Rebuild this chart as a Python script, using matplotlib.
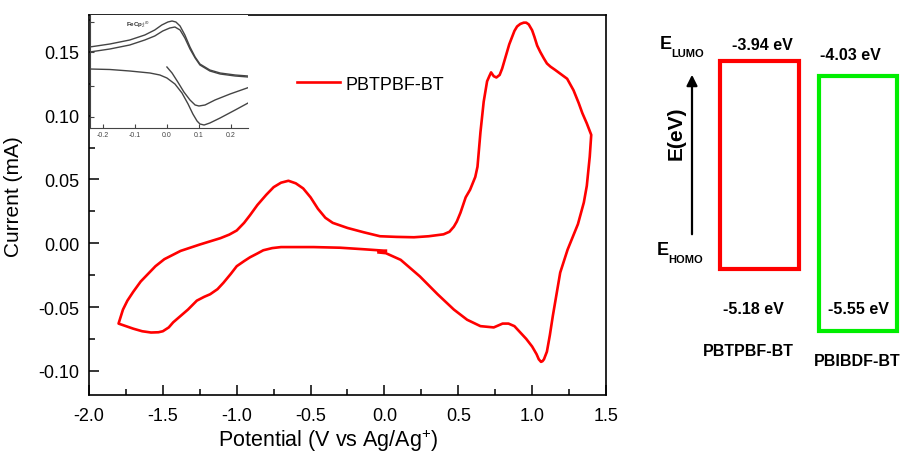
import matplotlib
matplotlib.use("Agg")
import matplotlib.pyplot as plt
from matplotlib.ticker import MultipleLocator, FormatStrFormatter

plt.rcParams['font.family'] = ['Liberation Sans', 'DejaVu Sans']
plt.rcParams['mathtext.fontset'] = 'custom'
plt.rcParams['mathtext.rm'] = 'Liberation Sans'
plt.rcParams['mathtext.it'] = 'Liberation Sans:italic'
plt.rcParams['mathtext.bf'] = 'Liberation Sans:bold'

# ---- cyclic voltammogram of PBTPBF-BT (V vs Ag/Ag+, mA) ----
# forward sweep: 0 V -> +1.4 V (lower branch)
cv_fwd_v = [-0.04, 0.01, 0.11, 0.24, 0.36, 0.47, 0.56, 0.65, 0.74, 0.80, 0.84,
            0.88, 0.92, 0.96, 1.00, 1.03, 1.045, 1.06, 1.07, 1.08, 1.10, 1.12,
            1.14, 1.165, 1.19, 1.24, 1.31, 1.35, 1.37, 1.39, 1.40]
cv_fwd_i = [-0.0072, -0.0078, -0.013, -0.026, -0.040, -0.052, -0.060, -0.065,
            -0.066, -0.063, -0.063, -0.065, -0.070, -0.075, -0.081, -0.087,
            -0.091, -0.093, -0.0925, -0.091, -0.085, -0.072, -0.057, -0.040,
            -0.023, -0.005, 0.015, 0.032, 0.045, 0.068, 0.085]
# reverse sweep: +1.4 V -> -1.8 V (upper branch)
cv_rev_v = [1.40, 1.37, 1.34, 1.315, 1.28, 1.237, 1.19, 1.155, 1.124, 1.10,
            1.079, 1.055, 1.034, 1.015, 1.00, 0.977, 0.96, 0.943, 0.92, 0.898,
            0.88, 0.865, 0.845, 0.83, 0.81, 0.797, 0.78, 0.758, 0.74, 0.722,
            0.71, 0.695, 0.672, 0.66, 0.65, 0.64, 0.63, 0.615, 0.58, 0.55,
            0.515, 0.49, 0.47, 0.44, 0.40, 0.30, 0.20, 0.08, -0.03, -0.14,
            -0.25, -0.35, -0.40, -0.45, -0.50, -0.55, -0.60, -0.65, -0.70,
            -0.75, -0.80, -0.86, -0.91, -0.95, -1.00, -1.05, -1.11, -1.25,
            -1.38, -1.49, -1.55, -1.60, -1.65, -1.70, -1.74, -1.77, -1.80]
cv_rev_i = [0.085, 0.094, 0.102, 0.110, 0.120, 0.129, 0.133, 0.136, 0.1385,
            0.141, 0.145, 0.150, 0.155, 0.162, 0.167, 0.1716, 0.173, 0.173,
            0.172, 0.170, 0.1665, 0.162, 0.156, 0.150, 0.142, 0.137, 0.132,
            0.130, 0.131, 0.134, 0.131, 0.127, 0.111, 0.098, 0.087, 0.073,
            0.060, 0.052, 0.042, 0.036, 0.024, 0.017, 0.013, 0.009, 0.007,
            0.0055, 0.0047, 0.005, 0.0055, 0.0086, 0.012, 0.016, 0.020, 0.027,
            0.036, 0.043, 0.047, 0.049, 0.0475, 0.044, 0.038, 0.030, 0.022,
            0.016, 0.010, 0.0068, 0.004, -0.001, -0.006, -0.0125, -0.018,
            -0.024, -0.030, -0.038, -0.045, -0.052, -0.063]
# return sweep: -1.8 V -> 0 V (lower left branch)
cv_ret_v = [-1.80, -1.70, -1.64, -1.58, -1.53, -1.50, -1.46, -1.43, -1.38,
            -1.33, -1.27, -1.22, -1.18, -1.13, -1.09, -1.04, -1.00, -0.95,
            -0.91, -0.86, -0.82, -0.76, -0.70, -0.48, -0.30, -0.14, -0.005, 0.01]
cv_ret_i = [-0.063, -0.067, -0.069, -0.070, -0.0698, -0.069, -0.066, -0.062,
            -0.057, -0.052, -0.045, -0.042, -0.040, -0.036, -0.031, -0.024,
            -0.018, -0.014, -0.011, -0.008, -0.0055, -0.0038, -0.003, -0.003,
            -0.0035, -0.0047, -0.0058, -0.0058]

# ---- ferrocene reference (inset, arbitrary current units) ----
fc1_v = [-0.241, -0.178, -0.116, -0.069, -0.038, -0.016, 0.003, 0.016, 0.028,
         0.041, 0.056, 0.072, 0.088, 0.103, 0.134, 0.166, 0.213, 0.253]
fc1_i = [81, 84, 88, 93, 98, 103, 106, 107, 106, 102, 93, 81, 71, 64, 58, 55, 53, 52]
fc2_v = [-0.241, -0.178, -0.116, -0.069, -0.038, -0.013, 0.009, 0.025, 0.041,
         0.056, 0.072, 0.088, 0.103, 0.134, 0.166, 0.213, 0.253]
fc2_i = [76, 79, 83, 88, 92, 97, 100, 101, 98, 90, 79, 70, 63, 57, 54, 52, 51]
fc3_v = [-0.241, -0.178, -0.116, -0.053, -0.022, 0.000, 0.025, 0.047, 0.066,
         0.081, 0.094, 0.103, 0.116, 0.134, 0.166, 0.213, 0.259]
fc3_i = [59, 58.5, 57, 55, 53, 50, 44, 35, 24, 14, 7, 4, 3, 5, 10, 18, 26]
fc4_v = [0.000, 0.016, 0.034, 0.053, 0.072, 0.088, 0.100, 0.119, 0.150, 0.197, 0.259]
fc4_i = [61, 55, 46, 36, 28, 23, 22, 23, 28, 34, 41]

# ---- frontier orbital energies (eV) ----
polymers = ['PBTPBF-BT', 'PBIBDF-BT']
lumo_ev = [-3.94, -4.03]
homo_ev = [-5.18, -5.55]
box_colors = ['#ff0000', '#00ee00']

W, H = 901, 452
fig = plt.figure(figsize=(W / 100, H / 100), dpi=100)


def fx(px):
    return px / W


def fy(py):
    return 1 - py / H


# main CV axes
ax = fig.add_axes([fx(89), fy(396), (606 - 89) / W, (396 - 16) / H])
cv_v = cv_fwd_v + cv_rev_v[1:] + cv_ret_v[1:]
cv_i = cv_fwd_i + cv_rev_i[1:] + cv_ret_i[1:]
ax.plot(cv_v, cv_i, color='#ff0000', lw=1.9, label='PBTPBF-BT',
        solid_joinstyle='round')
ax.set_xlim(-2.0, 1.5)
ax.set_ylim(-0.119, 0.179)
ax.xaxis.set_major_locator(MultipleLocator(0.5))
ax.xaxis.set_minor_locator(MultipleLocator(0.25))
ax.yaxis.set_major_locator(MultipleLocator(0.05))
ax.yaxis.set_minor_locator(MultipleLocator(0.025))
ax.xaxis.set_major_formatter(FormatStrFormatter('%.1f'))
ax.yaxis.set_major_formatter(FormatStrFormatter('%.2f'))
ax.tick_params(which='both', direction='in', top=False, right=False,
               labelsize=13, pad=7, width=1.1)
ax.tick_params(axis='x', which='both', pad=9)
ax.tick_params(which='major', length=7)
ax.tick_params(which='minor', length=4)
for s in ax.spines.values():
    s.set_linewidth(1.2)
ax.set_xlabel('Potential (V vs Ag/Ag$^{+}$)', fontsize=15.5, labelpad=0)
ax.xaxis.set_label_coords((328 - 89) / 517, -0.082)
ax.set_ylabel('Current (mA)', fontsize=15)
ax.yaxis.set_label_coords(-0.128, 0.525)
ax.legend(loc='center left', bbox_to_anchor=((297 - 89) / 517, (396 - 85) / 380),
          frameon=False, borderpad=0, borderaxespad=0, handlelength=2.4,
          handletextpad=0.3, fontsize=13)

# ferrocene inset
axi = fig.add_axes([fx(90), fy(129), (248 - 90) / W, (129 - 16) / H])
for v, i in [(fc1_v, fc1_i), (fc2_v, fc2_i), (fc3_v, fc3_i), (fc4_v, fc4_i)]:
    axi.plot(v, i, color='#444444', lw=1.0)
axi.set_xlim(-0.24, 0.253)
axi.set_ylim(0, 113)
axi.set_xticks([-0.2, -0.1, 0.0, 0.1, 0.2])
axi.set_yticks([11, 42, 76, 106])
axi.set_yticklabels([])
axi.xaxis.set_major_formatter(FormatStrFormatter('%.1f'))
axi.tick_params(direction='in', labelsize=5, length=3, width=0.8, pad=2,
                colors='#444444')
axi.spines['top'].set_visible(False)
axi.spines['right'].set_visible(False)
for s in ('left', 'bottom'):
    axi.spines[s].set_linewidth(0.8)
    axi.spines[s].set_color('#444444')
axi.text(-0.09, 110, 'FeCp$_2^{+/0}$', fontsize=4.5, color='#333333',
         ha='center', va='top', fontweight='bold')

# energy level diagram
axe = fig.add_axes([fx(640), 0, (W - 640) / W, 1])
px_per_ev = 168.0
ev_top = lumo_ev[0] + 62 / px_per_ev
ev_bot = ev_top - H / px_per_ev
axe.set_ylim(ev_bot, ev_top)
axe.set_xlim(-119.5 / 98.5, 1 + 43 / 98.5)
axe.axis('off')
xs = list(range(len(polymers)))
for x, lo, hi, c in zip(xs, lumo_ev, homo_ev, box_colors):
    axe.bar(x, lo - hi, bottom=hi, width=0.80, fill=False, edgecolor=c,
            linewidth=3.0)

lumo_lbl_px = [(762, 45), (850, 55)]
homo_lbl_px = [(753, 310), (858, 310)]
name_px = [(748, 352), (857, 362)]
for k in range(len(polymers)):
    fig.text(fx(lumo_lbl_px[k][0]), fy(lumo_lbl_px[k][1]), f'{lumo_ev[k]:.2f} eV',
             ha='center', va='center', fontsize=11.5, fontweight='bold')
    fig.text(fx(homo_lbl_px[k][0]), fy(homo_lbl_px[k][1]), f'{homo_ev[k]:.2f} eV',
             ha='center', va='center', fontsize=11.5, fontweight='bold')
    fig.text(fx(name_px[k][0]), fy(name_px[k][1]), polymers[k],
             ha='center', va='center', fontsize=11.5, fontweight='bold')

# energy axis arrow and labels
fig.add_artist(matplotlib.patches.FancyArrowPatch(
    (fx(692), fy(238)), (fx(692), fy(73)), transform=fig.transFigure,
    arrowstyle='-|>', mutation_scale=16, lw=1.6, color='black'))
fig.text(fx(676), fy(133), 'E(eV)', rotation=90, ha='center', va='center',
         fontsize=15, fontweight='bold')
fig.text(fx(660), fy(49), 'E', ha='left', va='baseline', fontsize=13,
         fontweight='bold')
fig.text(fx(671), fy(57), 'LUMO', ha='left', va='baseline', fontsize=8,
         fontweight='bold')
fig.text(fx(657), fy(255), 'E', ha='left', va='baseline', fontsize=13,
         fontweight='bold')
fig.text(fx(668), fy(263), 'HOMO', ha='left', va='baseline', fontsize=8,
         fontweight='bold')

fig.savefig('out.png', dpi=100)
